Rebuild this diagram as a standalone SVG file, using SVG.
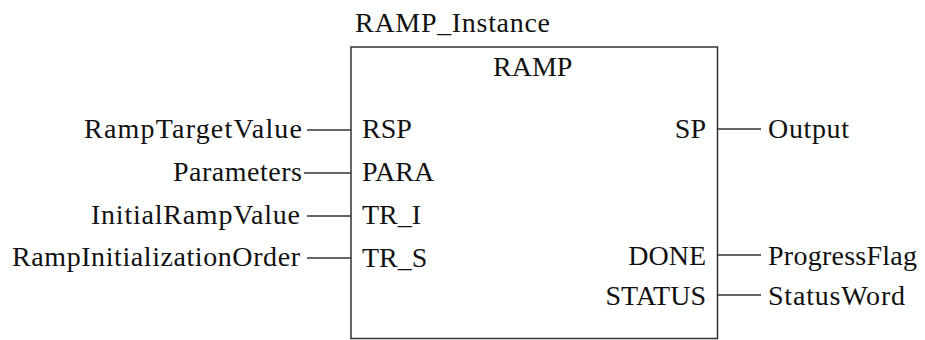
<svg xmlns="http://www.w3.org/2000/svg" width="925" height="340" viewBox="0 0 925 340">
<style>
text{font-family:"Liberation Serif","Times New Roman",serif;font-size:28px;fill:#111}
.e{text-anchor:end}
.w{stroke:#333;stroke-width:1.5;fill:none}
</style>
<rect width="925" height="340" fill="#fff"/>
<g id="ramp_block">
<text x="355" y="32" textLength="195" lengthAdjust="spacing">RAMP_Instance</text>
<rect class="w" x="351" y="47" width="366.5" height="291.5"/>
<text x="493" y="76">RAMP</text>
<text x="362" y="138">RSP</text>
<text x="362" y="181">PARA</text>
<text x="362" y="224">TR_I</text>
<text x="362" y="267">TR_S</text>
<text class="e" x="706" y="138">SP</text>
<text class="e" x="706" y="265">DONE</text>
<text class="e" x="706" y="305">STATUS</text>
</g>
<g id="in_RampTargetValue"><text class="e" x="302" y="138" textLength="218" lengthAdjust="spacing">RampTargetValue</text></g>
<g id="in_Parameters"><text class="e" x="302" y="181" textLength="129" lengthAdjust="spacing">Parameters</text></g>
<g id="in_InitialRampValue"><text class="e" x="300" y="224" textLength="209" lengthAdjust="spacing">InitialRampValue</text></g>
<g id="in_RampInitializationOrder"><text class="e" x="300" y="266" textLength="288" lengthAdjust="spacing">RampInitializationOrder</text></g>
<g id="out_Output"><text x="768" y="138" textLength="81" lengthAdjust="spacing">Output</text></g>
<g id="out_ProgressFlag"><text x="768" y="265" textLength="149" lengthAdjust="spacing">ProgressFlag</text></g>
<g id="out_StatusWord"><text x="768" y="305" textLength="137" lengthAdjust="spacing">StatusWord</text></g>
<g id="connectors" class="w">
<line x1="307" y1="130" x2="351" y2="130"/>
<line x1="304" y1="173" x2="351" y2="173"/>
<line x1="307" y1="216" x2="351" y2="216"/>
<line x1="307" y1="258" x2="351" y2="258"/>
<line x1="717.5" y1="129" x2="761" y2="129"/>
<line x1="717.5" y1="255" x2="761" y2="255"/>
<line x1="717.5" y1="295" x2="761" y2="295"/>
</g>
</svg>
